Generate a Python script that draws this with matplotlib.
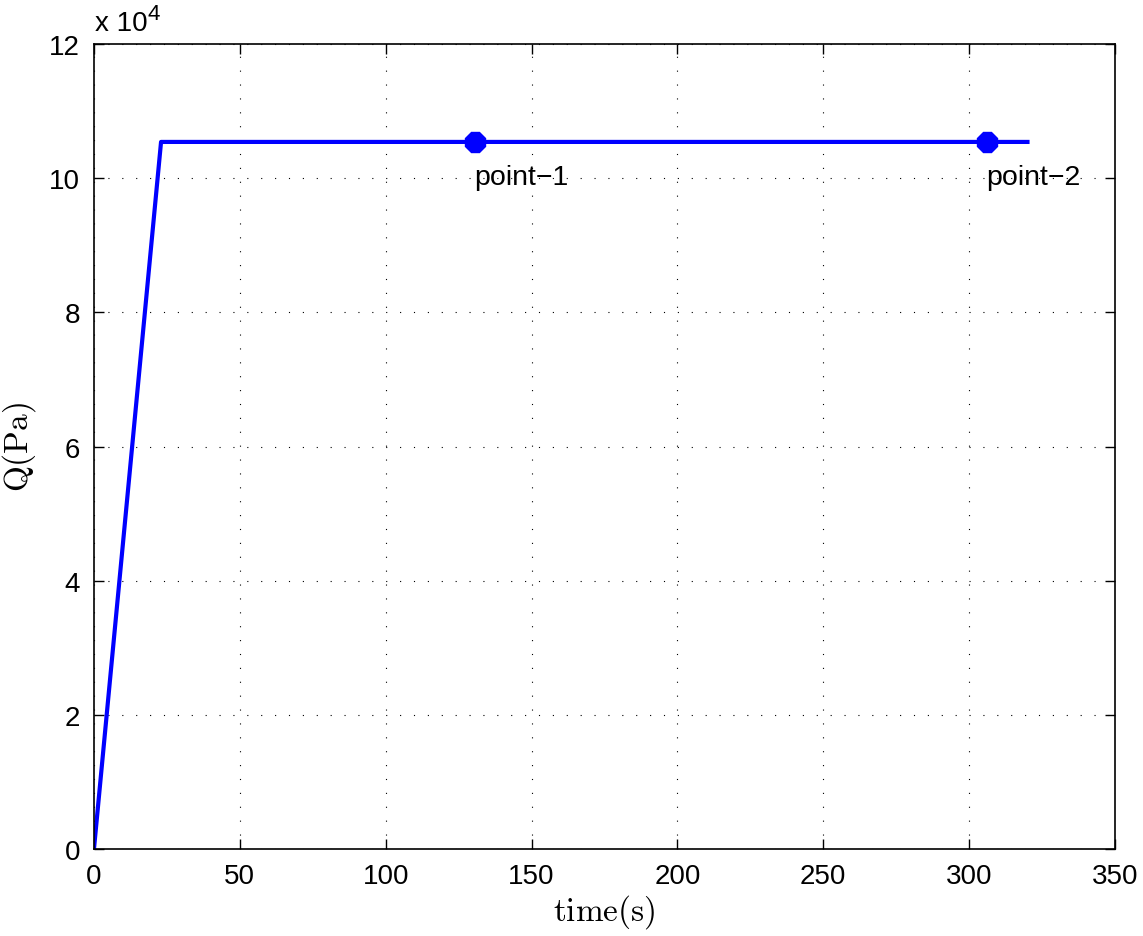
import numpy as np
import matplotlib.pyplot as plt
from matplotlib.ticker import FuncFormatter

plt.rcParams['mathtext.fontset'] = 'cm'
plt.rcParams['font.family'] = ['Liberation Sans', 'DejaVu Sans']

# pressure curve (s, Pa)
time = [0, 23, 320]
q = [0, 105400, 105400]

# marked points
pt_time = [130.5, 306]
pt_q = [105400, 105400]
pt_labels = ['point\u22121', 'point\u22122']

fig = plt.figure(figsize=(11.43, 9.37), dpi=100)
ax = fig.add_axes([0.0822, 0.0928, 0.8933, 0.8592])

ax.plot(time, q, color='#0000ff', lw=3)
ax.plot(pt_time, pt_q, '8', color='#0000ff', ms=15)
for x, y, s in zip(pt_time, pt_q, pt_labels):
    ax.text(x, 99100, s, fontsize=20.5, va='baseline', ha='left')

ax.set_xlim(0, 350)
ax.set_ylim(0, 120000)
ax.set_xticks(np.arange(0, 351, 50))
ax.set_yticks(np.arange(0, 120001, 20000))
ax.yaxis.set_major_formatter(FuncFormatter(lambda v, p: '%g' % (v / 1e4)))
ax.tick_params(direction='in', top=True, right=True, length=7, width=1,
               labelsize=20, pad=10)
ax.grid(True, color='black', linestyle=(0, (1, 11.5)), lw=0.8)
for s in ax.spines.values():
    s.set_linewidth(1.2)

# exponent label, matlab style
fig.text(95 / 1143, 1 - 31 / 937, 'x 10', fontsize=20, ha='left', va='baseline')
fig.text(147 / 1143, 1 - 20 / 937, '4', fontsize=16, ha='left', va='baseline')

ax.set_xlabel(r'$\mathrm{time(s)}$', fontsize=24, labelpad=2)
ax.set_ylabel(r'$\mathrm{Q(Pa)}$', fontsize=24, labelpad=8)

plt.savefig('out.png', dpi=100)
